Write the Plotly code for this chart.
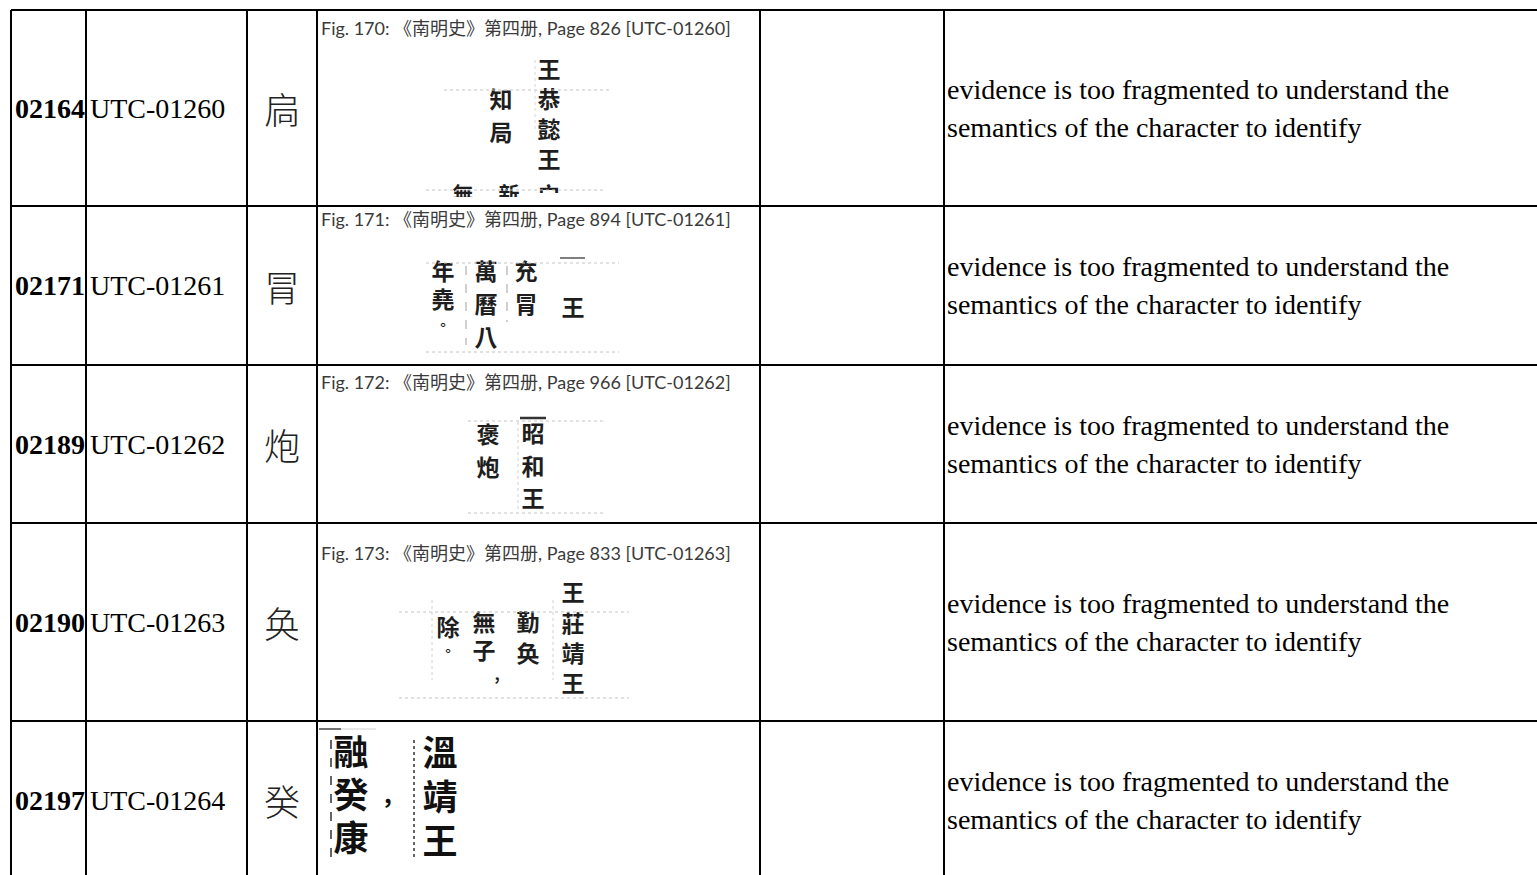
import plotly.graph_objects as go

# ---------------- data ----------------
ids = ["02164", "02171", "02189", "02190", "02197"]
utc_codes = ["UTC-01260", "UTC-01261", "UTC-01262", "UTC-01263", "UTC-01264"]
glyphs = ["扃", "冐", "炮", "奂", "癸"]
fig_numbers = [170, 171, 172, 173]
pages = [826, 894, 966, 833]
source_book = "《南明史》第四册"
comment_line1 = ["evidence is too fragmented to understand the"] * 5
comment_line2 = ["semantics of the character to identify"] * 5

# scanned evidence excerpts (vertical columns of text)
scan_texts_r1 = ["王恭懿王", "知局"]
scan_texts_r2 = ["年堯", "萬曆八", "充" + glyphs[1], "王"]
scan_texts_r3 = ["褒" + glyphs[2], "昭和王"]
scan_texts_r4 = ["除", "無子", "勤" + glyphs[3], "王莊靖王"]
scan_texts_r5 = ["融" + glyphs[4] + "康", "溫靖王"]

# ---------------- geometry ----------------
W, H = 1537, 875
col_edges = [11, 86, 247, 317, 760, 944]
row_edges = [10, 206, 365, 523, 721, 880]
caption_y = [28, 219, 382, 553]
row_mid = [(row_edges[i] + row_edges[i + 1]) / 2 for i in range(5)]
row_mid[4] = 800

TIMES = "Liberation Serif"
CAL = "Lato, Noto Sans CJK SC"
SCAN = "Noto Sans CJK TC"

fig = go.Figure()
annotations = []
shapes = []


def scan_column(x, ys, text, size=23, color="#1e1e1e"):
    fig.add_trace(go.Scatter(
        x=[x] * len(text), y=ys[:len(text)], mode="text", text=list(text),
        textposition="middle center",
        textfont=dict(family=SCAN, size=size, color=color, weight="bold"),
        hoverinfo="skip", showlegend=False))


def faint(x0, y0, x1, y1, color="#c4c4c4", width=1, dash="dot"):
    shapes.append(dict(type="line", x0=x0, y0=y0, x1=x1, y1=y1, xref="x", yref="y",
                       line=dict(color=color, width=width, dash=dash), layer="above"))


# ---- row 1 scan ----
faint(444, 90, 609, 90)
faint(426, 190, 606, 190)
faint(535, 60, 535, 130, color="#d8d8d8")
scan_column(549, [72, 102, 132, 162], scan_texts_r1[0])
scan_column(501, [102, 135], scan_texts_r1[1])
scan_column(463, [197], "無", size=21)
scan_column(509, [197], "新", size=21)
scan_column(549, [197], "宀", size=21)
# the scan ends here and cuts the last line of glyphs
shapes.append(dict(type="rect", x0=318, x1=759, y0=197, y1=212, xref="x", yref="y",
                   fillcolor="white", line=dict(width=0), layer="above"))

# ---- row 2 scan ----
faint(426, 263, 619, 263)
faint(426, 352, 619, 352)
faint(466, 266, 466, 345, color="#a0a0a0", dash="dash")
faint(507, 266, 507, 322, color="#a0a0a0", dash="dash")
faint(560, 258, 585, 258, color="#555", width=1.5, dash="solid")
scan_column(443, [274, 302], scan_texts_r2[0])
scan_column(443, [326], "。", size=14)
scan_column(486, [274, 307, 340], scan_texts_r2[1])
scan_column(526, [274, 307], scan_texts_r2[2])
scan_column(573, [310], scan_texts_r2[3])

# ---- row 3 scan ----
faint(468, 421, 603, 421)
faint(468, 513, 603, 513)
faint(520, 418, 546, 418, color="#333", width=2.5, dash="solid")
faint(518, 422, 518, 512, color="#cfcfcf")
scan_column(488, [437, 470], scan_texts_r3[0])
scan_column(533, [436, 469, 501], scan_texts_r3[1])

# ---- row 4 scan ----
faint(399, 612, 629, 612)
faint(399, 698, 629, 698)
faint(432, 600, 432, 680, color="#d0d0d0")
faint(553, 600, 553, 680, color="#d0d0d0")
scan_column(448, [630], scan_texts_r4[0])
scan_column(448, [652], "。", size=14)
scan_column(484, [625, 653], scan_texts_r4[1])
scan_column(497, [676], ",", size=16)
scan_column(528, [625, 656], scan_texts_r4[2])
scan_column(573, [595, 626, 656, 686], scan_texts_r4[3])

# ---- row 5 scan ----
faint(319, 729, 341, 729, color="#444", width=1.5, dash="solid")
faint(341, 729, 376, 729, color="#cfcfcf", width=1, dash="solid")
faint(331, 740, 331, 866, color="#333", width=1.5, dash="dash")
faint(414, 740, 414, 860, color="#333", width=1.5, dash="dot")
scan_column(351, [756, 799, 842], scan_texts_r5[0], size=35, color="#111")
scan_column(388, [797], ",", size=24, color="#111")
scan_column(440, [757, 801, 845], scan_texts_r5[1], size=35, color="#111")

# ---- table text ----
for i in range(5):
    y = row_mid[i]
    annotations.append(dict(x=13, y=y, xref="x", yref="y", text="<b>%s</b>" % ids[i],
                            showarrow=False, xanchor="left", yanchor="middle",
                            font=dict(family=TIMES, size=28, color="black")))
    annotations.append(dict(x=88, y=y, xref="x", yref="y", text=utc_codes[i],
                            showarrow=False, xanchor="left", yanchor="middle",
                            font=dict(family=TIMES, size=28, color="black")))
    annotations.append(dict(x=(col_edges[2] + col_edges[3]) / 2, y=y, xref="x", yref="y",
                            text=glyphs[i], showarrow=False, xanchor="center", yanchor="middle",
                            font=dict(family="Noto Sans CJK SC", size=36,
                                      color="#222", weight=300)))
    annotations.append(dict(x=945, y=y - 19, xref="x", yref="y", text=comment_line1[i],
                            showarrow=False, xanchor="left", yanchor="middle",
                            font=dict(family=TIMES, size=28, color="black")))
    annotations.append(dict(x=945, y=y + 19, xref="x", yref="y", text=comment_line2[i],
                            showarrow=False, xanchor="left", yanchor="middle",
                            font=dict(family=TIMES, size=28, color="black")))

for i in range(4):
    cap = "Fig. %d: %s, Page %d [%s]" % (fig_numbers[i], source_book, pages[i], utc_codes[i])
    annotations.append(dict(x=319, y=caption_y[i], xref="x", yref="y", text=cap,
                            showarrow=False, xanchor="left", yanchor="middle",
                            font=dict(family=CAL, size=18, color="#3a3a3a")))

# ---- table grid ----
LW = 2
for x in col_edges:
    shapes.append(dict(type="line", x0=x, x1=x, y0=row_edges[0], y1=H + 5, xref="x", yref="y",
                       line=dict(color="black", width=LW), layer="above"))
for y in row_edges[:5]:
    shapes.append(dict(type="line", x0=col_edges[0], x1=W + 5, y0=y, y1=y, xref="x", yref="y",
                       line=dict(color="black", width=LW), layer="above"))

fig.update_layout(
    width=W, height=H,
    margin=dict(l=0, r=0, t=0, b=0),
    paper_bgcolor="white", plot_bgcolor="white",
    xaxis=dict(range=[0, W], visible=False, fixedrange=True),
    yaxis=dict(range=[H, 0], visible=False, fixedrange=True),
    annotations=annotations, shapes=shapes, showlegend=False,
)

fig.write_html("out.html", post_script="document.body.style.margin='0';",
               config={"displayModeBar": False})
